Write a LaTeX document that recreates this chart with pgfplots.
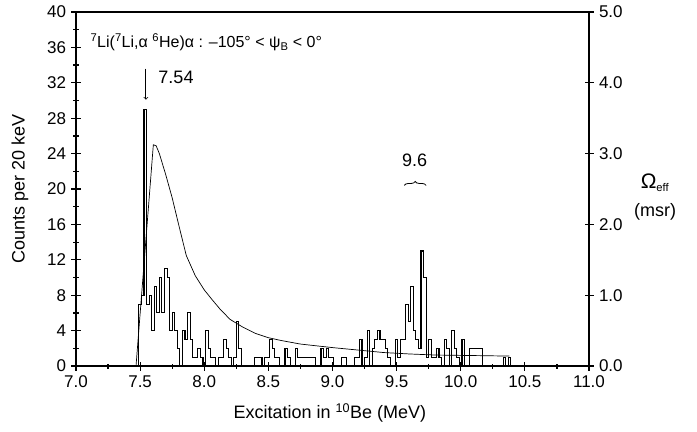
\documentclass[border=0pt]{standalone}
\usepackage{pgfplots}
\pgfplotsset{compat=1.18}
\usepackage{pgfplotstable}
\usepackage{fontspec}
\setmainfont{Liberation Sans}
\usetikzlibrary{decorations.pathreplacing}

\pgfplotstableread{
E c
7.47 0
7.49 7
7.51 8
7.53 29
7.55 7
7.57 8
7.59 4
7.61 9
7.63 6
7.65 10
7.67 6
7.69 11
7.71 10
7.73 4
7.75 6
7.77 4
7.79 2
7.81 0
7.83 4
7.85 3
7.87 6
7.89 3
7.91 1
7.93 1
7.95 2
7.97 1
7.99 0
8.01 4
8.03 2
8.05 1
8.07 1
8.09 0
8.11 1
8.13 1
8.15 3
8.17 2
8.19 1
8.21 0
8.23 1
8.25 5
8.27 2
8.29 0
8.31 0
8.33 0
8.35 0
8.37 0
8.39 1
8.41 1
8.43 1
8.45 0
8.47 1
8.49 1
8.51 3
8.53 2
8.55 1
8.57 1
8.59 0
8.61 0
8.63 2
8.65 1
8.67 0
8.69 0
8.71 2
8.73 1
8.75 1
8.77 1
8.79 1
8.81 1
8.83 1
8.85 1
8.87 0
8.89 0
8.91 2
8.93 1
8.95 2
8.97 1
8.99 1
9.01 0
9.03 0
9.05 0
9.07 1
9.09 1
9.11 0
9.13 0
9.15 0
9.17 1
9.19 1
9.21 3
9.23 0
9.25 1
9.27 4
9.29 0
9.31 2
9.33 3
9.35 4
9.37 3
9.39 3
9.41 2
9.43 1
9.45 0
9.47 0
9.49 3
9.51 1
9.53 3
9.55 3
9.57 7
9.59 5
9.61 9
9.63 4
9.65 3
9.67 2
9.69 13
9.71 10
9.73 1
9.75 3
9.77 1
9.79 1
9.81 2
9.83 1
9.85 0
9.87 3
9.89 2
9.91 0
9.93 4
9.95 2
9.97 1
9.99 0
10.01 3
10.03 0
10.05 0
10.07 2
10.09 2
10.11 2
10.13 2
10.15 2
10.17 0
10.19 0
10.21 0
10.23 0
10.25 0
10.27 0
10.29 0
10.31 0
10.33 1
10.35 0
10.37 1
10.39 0
10.41 0
}\hist

\pgfplotstableread{
E om
7.468 0
7.603 3.125
7.625 3.11
7.65 3.00
7.70 2.70
7.75 2.375
7.80 2.00
7.86 1.56
7.93 1.275
8.00 1.075
8.06 0.94
8.12 0.81
8.20 0.66
8.30 0.55
8.40 0.46
8.50 0.40
8.60 0.36
8.75 0.31
8.90 0.28
9.00 0.26
9.20 0.225
9.40 0.19
9.60 0.17
9.80 0.155
10.00 0.15
10.20 0.145
10.38 0.14
}\eff

\begin{document}
\fontsize{16}{19}\selectfont
\begin{tikzpicture}
\begin{axis}[name=ax, scale only axis, width=513pt, height=354pt,
  xmin=7, xmax=11, ymin=0, ymax=40,
  xtick={7,7.5,8,8.5,9,9.5,10,10.5,11}, minor x tick num=1,
  ytick={0,4,...,40}, minor y tick num=1,
  tick pos=left, tick align=center,
  major tick length=9pt, minor tick length=5pt,
  every tick/.style={black, line width=1.2pt},
  axis line style={line width=1.6pt},
  /pgf/number format/assume math mode=true,
  tick label style={font=\fontsize{17}{20}\selectfont},
  label style={font=\fontsize{18}{21}\selectfont},
  x tick label style={/pgf/number format/.cd, fixed, fixed zerofill, precision=1, /tikz/.cd},
  xlabel={Excitation in \textsuperscript{10}Be (MeV)},
  ylabel={Counts per 20 keV},
  x label style={at={(axis description cs:0.495,-0.133)}, anchor=center},
  y label style={at={(axis description cs:-0.109,0.5)}, anchor=center},
  clip=false,
]
\addplot[const plot, black, line width=1.1pt] table[x=E, y=c] {\hist};
\node[anchor=west] at (axis cs:7.07,36.6)
  {\textsuperscript{7}Li(\textsuperscript{7}Li,α \textsuperscript{6}He)α : –105° < ψ\textsubscript{B} < 0°};
\draw[->, line width=0.8pt] (axis cs:7.545,33.6) -- (axis cs:7.545,30.1);
\node[anchor=west, font=\fontsize{18}{21}\selectfont] at (axis cs:7.60,32.6) {7.54};
\node[font=\fontsize{18}{21}\selectfont] at (axis cs:9.64,23.2) {9.6};
\draw[decorate, decoration={brace, amplitude=4pt}, line width=0.8pt]
  (axis cs:9.56,20.4) -- (axis cs:9.73,20.4);
\node at (rel axis cs:1.1287,0.517) {{\fontsize{21}{23}\selectfont Ω}\textsubscript{eff}};
\node[font=\fontsize{18}{21}\selectfont] at (rel axis cs:1.1287,0.435) {(msr)};
\end{axis}
\begin{axis}[scale only axis, width=513pt, height=354pt,
  xmin=7, xmax=11, ymin=0, ymax=5,
  axis x line=none, axis y line*=right,
  ytick={0,1,...,5}, tick align=center,
  major tick length=9pt,
  every tick/.style={black, line width=1.2pt},
  axis line style={line width=1.6pt},
  /pgf/number format/assume math mode=true,
  tick label style={font=\fontsize{17}{20}\selectfont},
  y tick label style={/pgf/number format/.cd, fixed, fixed zerofill, precision=1, /tikz/.cd},
]
\addplot[black, line width=0.7pt] table[x=E, y=om] {\eff};
\end{axis}
\pgfresetboundingbox
\path[use as bounding box] ([xshift=-76pt,yshift=-65pt]ax.south west) rectangle ([xshift=108pt,yshift=12pt]ax.north east);
\end{tikzpicture}
\end{document}
